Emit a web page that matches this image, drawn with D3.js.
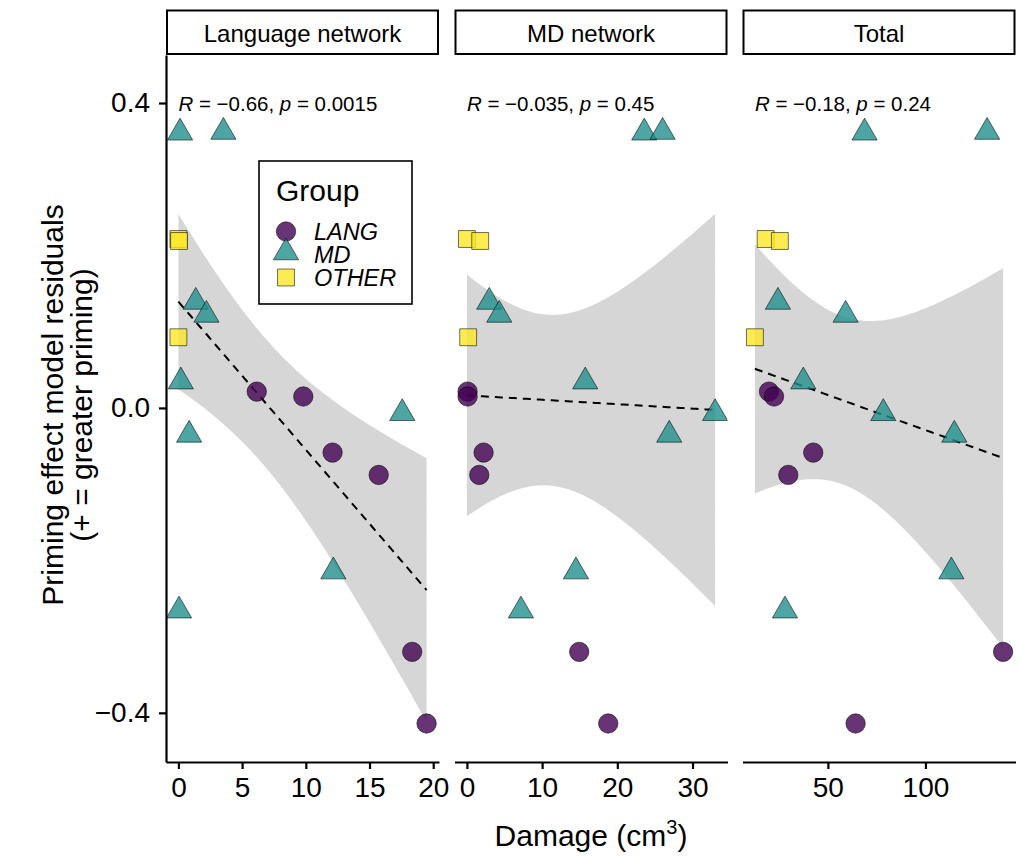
<!DOCTYPE html>
<html><head><meta charset="utf-8">
<script src="https://cdn.jsdelivr.net/npm/d3@7"></script>
<style>body{margin:0;background:#fff} text{font-family:"Liberation Sans",Arial,Helvetica,sans-serif;fill:#000}</style>
</head><body>
<svg id="chart" width="1021" height="857"></svg>
<script>
// ---------------- data ----------------
const panels = ["Language network", "MD network", "Total"];
const groups = ["LANG", "MD", "OTHER"];
const groupColors = ["#440154", "#21908C", "#FDE725"];
const subjectGroup = ["MD","MD","OTHER","OTHER","MD","MD","OTHER","LANG","LANG","MD","MD","MD","LANG","LANG","MD","MD","LANG","LANG"];
const residual    = [0.361, 0.362, 0.2216, 0.219, 0.139, 0.122, 0.0927, 0.0214, 0.015, 0.0345, -0.007, -0.0354, -0.0586, -0.0879, -0.2147, -0.266, -0.32, -0.414];
const langDamage  = [0.13, 3.53, 0, 0.05, 1.36, 2.2, 0, 6.15, 9.8, 0.19, 17.57, 0.84, 12.1, 15.72, 12.16, 0.05, 18.35, 19.48];
const mdDamage    = [23.58, 26.02, 0, 1.77, 2.97, 4.3, 0.17, 0.09, 0.09, 15.73, 33.0, 26.9, 2.22, 1.64, 14.5, 7.18, 14.93, 18.79];
const totalDamage = [68.8, 131.6, 18.1, 25.4, 24.4, 59.1, 12.6, 19.8, 22.4, 37.4, 78.4, 114.8, 42.5, 29.7, 113.3, 28.0, 139.8, 64.2];
const corR = ["\u22120.66", "\u22120.035", "\u22120.18"];
const corP = ["0.0015", "0.45", "0.24"];
const xTicks = [[0, 5, 10, 15, 20], [0, 10, 20, 30], [50, 100]];
const yTicks = [-0.4, 0.0, 0.4];
const yDomain = [-0.4645, 0.463];

// ---------------- layout ----------------
const svg = d3.select("#chart");
const plotTop = 55, plotBottom = 762;
const panelLeft = [166, 454.5, 742.5], panelW = 273;
const stripTop = 10.5;
const y = d3.scaleLinear().domain(yDomain).range([plotBottom, plotTop]);
const xData = [langDamage, mdDamage, totalDamage];
const fmtY = v => (v < 0 ? "\u2212" : "") + Math.abs(v).toFixed(1);
const FONT = '"Liberation Sans",Arial,Helvetica,sans-serif';

function linFit(xs, ys) {
  const n = xs.length, mx = d3.mean(xs), my = d3.mean(ys);
  let sxx = 0, sxy = 0;
  for (let i = 0; i < n; i++) { sxx += (xs[i]-mx)**2; sxy += (xs[i]-mx)*(ys[i]-my); }
  const b = sxy / sxx, a = my - b * mx;
  let sse = 0;
  for (let i = 0; i < n; i++) sse += (ys[i] - a - b*xs[i])**2;
  const s = Math.sqrt(sse / (n - 2));
  const t = 2.1199; // t quantile 0.975, df = 16
  const [x0, x1] = d3.extent(xs);
  return d3.range(80).map(i => {
    const xv = x0 + (x1 - x0) * i / 79;
    const yh = a + b * xv;
    const se = s * Math.sqrt(1/n + (xv - mx)**2 / sxx);
    return {x: xv, y: yh, lo: yh - t*se, hi: yh + t*se};
  });
}

const sym = {
  LANG: d3.symbol().type(d3.symbolCircle).size(295),
  MD: d3.symbol().type(d3.symbolTriangle).size(275),
  OTHER: d3.symbol().type(d3.symbolSquare).size(285)
};
const color = d3.scaleOrdinal().domain(groups).range(groupColors);

panels.forEach((name, pi) => {
  const xs = xData[pi];
  const [mn, mx] = d3.extent(xs);
  const pad = (mx - mn) * 0.05;
  const x = d3.scaleLinear().domain([mn - pad, mx + pad]).range([panelLeft[pi], panelLeft[pi] + panelW]);
  const g = svg.append("g");

  const cid = "clip" + pi;
  svg.append("clipPath").attr("id", cid).append("rect")
    .attr("x", panelLeft[pi]).attr("y", plotTop).attr("width", panelW).attr("height", plotBottom - plotTop);

  // strip
  g.append("rect").attr("x", panelLeft[pi] + 1).attr("y", stripTop)
    .attr("width", panelW - 2).attr("height", plotTop - stripTop - 1)
    .attr("fill", "#fff").attr("stroke", "#000").attr("stroke-width", 2);
  g.append("text").attr("x", panelLeft[pi] + panelW / 2).attr("y", 42)
    .attr("text-anchor", "middle").attr("font-size", 24).text(name);

  // smooth
  const fit = linFit(xs, residual);
  const pg = g.append("g").attr("clip-path", `url(#${cid})`);
  pg.append("path").datum(fit)
    .attr("d", d3.area().x(d => x(d.x)).y0(d => y(d.lo)).y1(d => y(d.hi)))
    .attr("fill", "#999999").attr("fill-opacity", 0.4);
  pg.append("path").datum(fit)
    .attr("d", d3.line().x(d => x(d.x)).y(d => y(d.y)))
    .attr("fill", "none").attr("stroke", "#000").attr("stroke-width", 2).attr("stroke-dasharray", "8,6");

  // points
  pg.selectAll("path.pt").data(residual.map((r, i) => ({x: xs[i], y: r, g: subjectGroup[i]})))
    .join("path").attr("class", "pt")
    .attr("transform", d => `translate(${x(d.x)},${y(d.y)})`)
    .attr("d", d => sym[d.g]())
    .attr("fill", d => color(d.g)).attr("fill-opacity", 0.8)
    .attr("stroke", "#000").attr("stroke-opacity", 0.7).attr("stroke-width", 0.8);

  // cor label
  const lab = g.append("text").attr("x", x(mn)).attr("y", 111).attr("font-size", 20.5);
  lab.append("tspan").attr("font-style", "italic").text("R");
  lab.append("tspan").text(" = " + corR[pi] + ", ");
  lab.append("tspan").attr("font-style", "italic").text("p");
  lab.append("tspan").text(" = " + corP[pi]);

  // x axis
  const ax = g.append("g").attr("transform", `translate(0,${plotBottom})`)
    .call(d3.axisBottom(x).tickValues(xTicks[pi]).tickSize(7).tickPadding(8).tickSizeOuter(0));
  ax.select(".domain").attr("stroke-width", 2.2);
  ax.selectAll(".tick line").attr("stroke-width", 2.2);
  ax.selectAll(".tick text").attr("font-size", 28).attr("font-family", FONT).attr("fill", "#000");

  if (pi === 0) {
    const ay = g.append("g").attr("transform", `translate(${panelLeft[0]},0)`)
      .call(d3.axisLeft(y).tickValues(yTicks).tickFormat(fmtY).tickSize(7).tickPadding(9).tickSizeOuter(0));
    ay.select(".domain").attr("stroke-width", 2.2);
    ay.selectAll(".tick line").attr("stroke-width", 2.2);
    ay.selectAll(".tick text").attr("font-size", 28).attr("font-family", FONT).attr("fill", "#000");
  }
});

// axis titles
const xt = svg.append("text").attr("x", 591).attr("y", 846).attr("text-anchor", "middle").attr("font-size", 30);
xt.append("tspan").text("Damage (cm");
xt.append("tspan").attr("font-size", 20).attr("dy", -12).text("3");
xt.append("tspan").attr("dy", 12).text(")");

const yt = svg.append("text").attr("transform", "translate(0,405) rotate(-90)").attr("text-anchor", "middle").attr("font-size", 30);
yt.append("tspan").attr("x", 0).attr("y", 63).text("Priming effect model residuals");
yt.append("tspan").attr("x", 0).attr("y", 92).text("(+ = greater priming)");

// legend
const lg = svg.append("g");
lg.append("rect").attr("x", 259).attr("y", 161).attr("width", 153).attr("height", 143)
  .attr("fill", "#fff").attr("stroke", "#000").attr("stroke-width", 1.6);
lg.append("text").attr("x", 276).attr("y", 201).attr("font-size", 30).text("Group");
const keyY = [231.5, 252.5, 277.5], labY = [240, 263, 286];
groups.forEach((gname, i) => {
  lg.append("path").attr("transform", `translate(286,${keyY[i]})`).attr("d", sym[gname]())
    .attr("fill", color(gname)).attr("fill-opacity", 0.8)
    .attr("stroke", "#000").attr("stroke-opacity", 0.7).attr("stroke-width", 0.8);
  lg.append("text").attr("x", 314).attr("y", labY[i]).attr("font-size", 23.5).attr("font-style", "italic").text(gname);
});
</script>
</body></html>
